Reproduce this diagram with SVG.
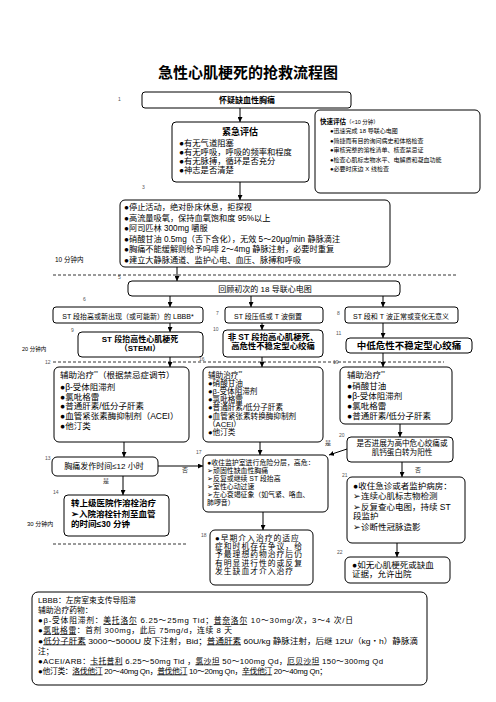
<svg xmlns="http://www.w3.org/2000/svg" width="496" height="702" viewBox="0 0 496 702">
<defs>
<marker id="ah" markerUnits="userSpaceOnUse" markerWidth="5" markerHeight="5" refX="5" refY="2.5" orient="auto">
<path d="M0,0 L5,2.5 L0,5 z" fill="#000"/>
</marker>
</defs>
<style>
text{font-family:'Liberation Sans','Noto Sans CJK SC',sans-serif;fill:#000}
.box{fill:#fff;stroke:#000;stroke-width:1}
.b{font-weight:bold}
.num{font-size:5px;fill:#555}
.dash{stroke:#000;stroke-width:0.8;stroke-dasharray:3 2;fill:none}
.conn{stroke:#000;stroke-width:1;fill:none;marker-end:url(#ah)}
.lbl{font-size:6px;fill:#333}
.u{text-decoration:underline}
.sup{font-size:5px}
</style>
<rect width="496" height="702" fill="#fff"/>

<text x="248" y="78" text-anchor="middle" class="b" font-size="15">急性心肌梗死的抢救流程图</text>

<g id="labels">
<text x="118" y="101" class="num">1</text>
<text x="142" y="189" class="num">3</text>
<text x="118" y="279" class="num">5</text>
<text x="83" y="301" class="num">6</text>
<text x="216" y="315" class="num">7</text>
<text x="337" y="315" class="num">8</text>
<text x="71" y="332" class="num">9</text>
<text x="213" y="331" class="num">10</text>
<text x="336" y="335" class="num">11</text>
<text x="45" y="364" class="num">12</text>
<text x="199" y="361" class="num">16</text>
<text x="333" y="364" class="num">19</text>
<text x="339" y="437" class="num">20</text>
<text x="45" y="460" class="num">13</text>
<text x="196" y="454" class="num">17</text>
<text x="342" y="477" class="num">21</text>
<text x="53" y="494" class="num">14</text>
<text x="201" y="537" class="num">18</text>
<text x="337" y="554" class="num">22</text>
<text x="55" y="262" font-size="6.5">10 分钟内</text>
<text x="22" y="351" font-size="5.5">20 分钟内</text>
<text x="27" y="526" font-size="6">30 分钟内</text>
</g>

<g id="dividers">
<line x1="53" y1="275" x2="458" y2="275" class="dash"/>
<line x1="53" y1="362" x2="444" y2="362" class="dash"/>
<line x1="53" y1="544" x2="187" y2="544" class="dash"/>
</g>

<g id="connectors">
<line x1="240" y1="108" x2="240" y2="122" class="conn"/>
<line x1="240" y1="182" x2="240" y2="200" class="conn"/>
<line x1="177" y1="267" x2="177" y2="281" class="conn"/>
<line x1="170" y1="296" x2="170" y2="307" class="conn"/>
<line x1="251" y1="296" x2="251" y2="307" class="conn"/>
<line x1="383" y1="296" x2="383" y2="307" class="conn"/>
<line x1="170" y1="323" x2="170" y2="332" class="conn"/>
<line x1="262" y1="323" x2="262" y2="330" class="conn"/>
<line x1="383" y1="323" x2="383" y2="338" class="conn"/>
<line x1="170" y1="357" x2="170" y2="367" class="conn"/>
<line x1="262" y1="357" x2="262" y2="367" class="conn"/>
<line x1="383" y1="353" x2="383" y2="367" class="conn"/>
<line x1="124" y1="442" x2="124" y2="457" class="conn"/>
<line x1="158" y1="466" x2="203" y2="466" class="conn"/>
<line x1="260" y1="442" x2="260" y2="455" class="conn"/>
<line x1="123" y1="476" x2="123" y2="495" class="conn"/>
<line x1="400" y1="424" x2="400" y2="437" class="conn"/>
<line x1="347" y1="449" x2="329" y2="455" class="conn"/>
<line x1="402" y1="462" x2="402" y2="477" class="conn"/>
<line x1="263" y1="512" x2="263" y2="530" class="conn"/>
<line x1="397" y1="543" x2="397" y2="557" class="conn"/>
<text x="325" y="445" class="lbl">是</text>
<text x="415" y="472" class="lbl">否</text>
<text x="182" y="472" class="lbl">否</text>
<text x="103" y="483" class="lbl">是</text>
</g>

<g id="n1">
<rect x="142" y="92" width="209" height="16" rx="3" class="box" stroke-width="1.2"/>
<text x="247" y="103" text-anchor="middle" class="b" font-size="8">怀疑缺血性胸痛</text>
</g>

<g id="n2">
<rect x="172" y="122" width="137" height="60" rx="4" class="box" stroke-width="1.2"/>
<text x="240" y="135" text-anchor="middle" class="b" font-size="9">紧急评估</text>
<text x="179" font-size="8.3"><tspan x="179" y="145.5">●有无气道阻塞</tspan><tspan x="179" y="154.8">●有无呼吸，呼吸的频率和程度</tspan><tspan x="179" y="164.1">●有无脉搏，循环是否充分</tspan><tspan x="179" y="173.4">●神志是否清楚</tspan></text>
</g>

<g id="n-quick">
<rect x="315" y="110" width="165" height="83" rx="5" class="box"/>
<text x="320" y="124"><tspan class="b" font-size="6.5">快速评估</tspan><tspan font-size="5.5">（&lt;10 分钟）</tspan></text>
<text font-size="6"><tspan x="330" y="133">●迅速完成 18 导联心电图</tspan><tspan x="330" y="142.5">●简捷而有目的询问病史和体格检查</tspan><tspan x="330" y="152">●审核完整的溶栓清单、核查禁忌证</tspan><tspan x="330" y="161.5">●检查心肌标志物水平、电解质和凝血功能</tspan><tspan x="330" y="171">●必要时床边 X 线检查</tspan></text>
</g>

<g id="n4">
<rect x="120" y="200" width="270" height="67" rx="5" class="box"/>
<text font-size="8.2"><tspan x="124" y="210">●停止活动，绝对卧床休息，拒探视</tspan><tspan x="124" y="220.5">●高流量吸氧，保持血氧饱和度 95%以上</tspan><tspan x="124" y="231">●阿司匹林 300mg 嚼服</tspan><tspan x="124" y="241.5">●硝酸甘油 0.5mg（舌下含化），无效 5～20μg/min 静脉滴注</tspan><tspan x="124" y="252">●胸痛不能缓解则给予吗啡 2～4mg 静脉注射，必要时重复</tspan><tspan x="124" y="262.5">●建立大静脉通道、监护心电、血压、脉搏和呼吸</tspan></text>
</g>

<g id="n5">
<rect x="128" y="281" width="272" height="15" rx="4" class="box"/>
<text x="265" y="291.8" text-anchor="middle" font-size="8" fill="#222">回顾初次的 18 导联心电图</text>
</g>

<g id="n6">
<rect x="53" y="307" width="150" height="16" rx="3" class="box"/>
<text x="128" y="318.5" text-anchor="middle" font-size="7">ST 段抬高或新出现（或可能新）的 LBBB*</text>
</g>
<g id="n7">
<rect x="225" y="307" width="98" height="16" rx="3" class="box"/>
<text x="268" y="318.5" text-anchor="middle" font-size="7">ST 段压低或 T 波倒置</text>
</g>
<g id="n8">
<rect x="345" y="307" width="113" height="16" rx="3" class="box"/>
<text x="401" y="318.5" text-anchor="middle" font-size="7">ST 段和 T 波正常或变化无意义</text>
</g>

<g id="n9">
<rect x="78" y="332" width="125" height="25" rx="4" class="box"/>
<text text-anchor="middle" class="b" font-size="8"><tspan x="140" y="342.3">ST 段抬高性心肌梗死</tspan><tspan x="140" y="351.3">（STEMI）</tspan></text>
</g>
<g id="n10">
<rect x="223" y="330" width="100" height="27" rx="4" class="box"/>
<text text-anchor="middle" class="b" font-size="8.4"><tspan x="273" y="339.5">非 ST 段抬高心肌梗死、</tspan><tspan x="273" y="349">高危性不稳定型心绞痛</tspan></text>
</g>
<g id="n11">
<rect x="346" y="338" width="126" height="15" rx="4" class="box"/>
<text x="409" y="348.5" text-anchor="middle" class="b" font-size="9.5">中低危性不稳定型心绞痛</text>
</g>

<g id="n12">
<rect x="54" y="367" width="135" height="75" rx="5" class="box"/>
<text font-size="8.5" fill="#333"><tspan x="60" y="378">辅助治疗<tspan class="sup" dy="-3">**</tspan><tspan dy="3">（根据禁忌症调节）</tspan></tspan><tspan x="60" y="389.5">●β-受体阻滞剂</tspan><tspan x="60" y="399.5">●氯吡格雷</tspan><tspan x="60" y="409.3">●普通肝素/低分子肝素</tspan><tspan x="60" y="419.1">●血管紧张素酶抑制剂（ACEI）</tspan><tspan x="60" y="428.9">●他汀类</tspan></text>
</g>

<g id="n16">
<rect x="203" y="367" width="120" height="75" rx="5" class="box"/>
<text font-size="7.6" fill="#333"><tspan x="208" y="378">辅助治疗<tspan class="sup" dy="-3">**</tspan></tspan><tspan x="208" y="386.1">●硝酸甘油</tspan><tspan x="208" y="394.2">●β-受体阻滞剂</tspan><tspan x="208" y="402.3">●氯吡格雷</tspan><tspan x="208" y="410.4">●普通肝素/低分子肝素</tspan><tspan x="208" y="418.5">●血管紧张素转换酶抑制剂</tspan><tspan x="208" y="426.6">（ACEI）</tspan><tspan x="208" y="434.7">●他汀类</tspan></text>
</g>

<g id="n19">
<rect x="340" y="367" width="112" height="57" rx="5" class="box"/>
<text font-size="8.5" fill="#333"><tspan x="347" y="378">辅助治疗<tspan class="sup" dy="-3">**</tspan></tspan><tspan x="347" y="389">●硝酸甘油</tspan><tspan x="347" y="399">●β-受体阻滞剂</tspan><tspan x="347" y="409">●氯吡格雷</tspan><tspan x="347" y="419">●普通肝素/低分子肝素</tspan></text>
</g>

<g id="n20">
<rect x="347" y="437" width="106" height="25" rx="4" class="box"/>
<text text-anchor="middle" font-size="7.6"><tspan x="402" y="445.5">是否进展为高中危心绞痛或</tspan><tspan x="402" y="454.5">肌钙蛋白转为阳性</tspan></text>
</g>

<g id="n13">
<rect x="52" y="457" width="106" height="19" rx="5" class="box"/>
<text x="104" y="469" text-anchor="middle" font-size="8" fill="#333">胸痛发作时间≤12 小时</text>
</g>

<g id="n17">
<rect x="203" y="455" width="125" height="57" rx="5" class="box"/>
<text font-size="6.9"><tspan x="207" y="464.5">●收住监护室进行危险分层，高危：</tspan><tspan x="207" y="472.5">➢顽固性缺血性胸痛</tspan><tspan x="207" y="480.5">➢反复或继续 ST 段抬高</tspan><tspan x="207" y="488.5">➢室性心动过速</tspan><tspan x="207" y="496.5">➢左心衰竭征象（如气紧、咯血、</tspan><tspan x="207" y="505">肺啰音）</tspan></text>
</g>

<g id="n14">
<rect x="64" y="495" width="105" height="41" rx="4" class="box" stroke-width="1.1"/>
<text class="b" font-size="8.5"><tspan x="71" y="506">转上级医院作溶栓治疗</tspan><tspan x="71" y="516.5">➢入院溶栓针剂至血管</tspan><tspan x="71" y="526.5">的时间≤30 分钟</tspan></text>
</g>

<g id="n18">
<rect x="210" y="530" width="103" height="55" rx="5" class="box"/>
<text font-size="7.8" letter-spacing="1"><tspan x="215" y="540.5">●早期介入治疗的适应</tspan><tspan x="215" y="548.9">症和时机存在争议，给</tspan><tspan x="215" y="557.3">予最理想药物治疗后仍</tspan><tspan x="215" y="565.7">有明显进行性的或反复</tspan><tspan x="215" y="574.1">发生缺血才介入治疗</tspan></text>
</g>

<g id="n21">
<rect x="347" y="477" width="118" height="66" rx="5" class="box"/>
<text font-size="8.5"><tspan x="353" y="489">●收住急诊或者监护病房：</tspan><tspan x="353" y="499">➢连续心肌标志物检测</tspan><tspan x="353" y="509.5">➢反复查心电图，持续 ST</tspan><tspan x="353" y="519">段监护</tspan><tspan x="353" y="530">➢诊断性冠脉造影</tspan></text>
</g>

<g id="n22">
<rect x="345" y="557" width="105" height="26" rx="5" class="box"/>
<text font-size="8.5"><tspan x="352" y="568">●如无心肌梗死或缺血</tspan><tspan x="352" y="577">证据，允许出院</tspan></text>
</g>

<g id="notes">
<rect x="32" y="592" width="395" height="93" rx="6" class="box"/>
<text x="38" y="603" font-size="7.8">LBBB：左房室束支传导阻滞</text>
<text x="38" y="613" font-size="7.8">辅助治疗药物：</text>
<text x="38" y="623" font-size="7.8" textLength="315" lengthAdjust="spacing">●β-受体阻滞剂：<tspan class="u">美托洛尔</tspan> 6.25～25mg Tid；<tspan class="u">普奈洛尔</tspan> 10～30mg/次，3～4 次/日</text>
<text x="38" y="633" font-size="7.8" textLength="194" lengthAdjust="spacing">●<tspan class="u">氯吡格雷</tspan>：首剂 300mg，此后 75mg/d，连续 8 天</text>
<text x="38" y="643.5" font-size="7.8" textLength="380" lengthAdjust="spacingAndGlyphs">●<tspan class="u">低分子肝素</tspan> 3000～5000U 皮下注射，Bid；<tspan class="u">普通肝素</tspan> 60U/kg 静脉注射，后继 12U/（kg・h）静脉滴</text>
<text x="38" y="653.5" font-size="7.8">注；</text>
<text x="38" y="663.5" font-size="7.8" textLength="345" lengthAdjust="spacing">●ACEI/ARB：<tspan class="u">卡托普利</tspan> 6.25～50mg Tid ，<tspan class="u">氯沙坦</tspan> 50～100mg Qd，<tspan class="u">厄贝沙坦</tspan>  150～300mg Qd</text>
<text x="38" y="673.5" font-size="7.8" textLength="289" lengthAdjust="spacing">●他汀类：<tspan class="u">洛伐他汀</tspan> 20～40mg Qn，<tspan class="u">普伐他汀</tspan>  10～20mg Qn，<tspan class="u">辛伐他汀</tspan>  20～40mg Qn；</text>
</g>
</svg>
